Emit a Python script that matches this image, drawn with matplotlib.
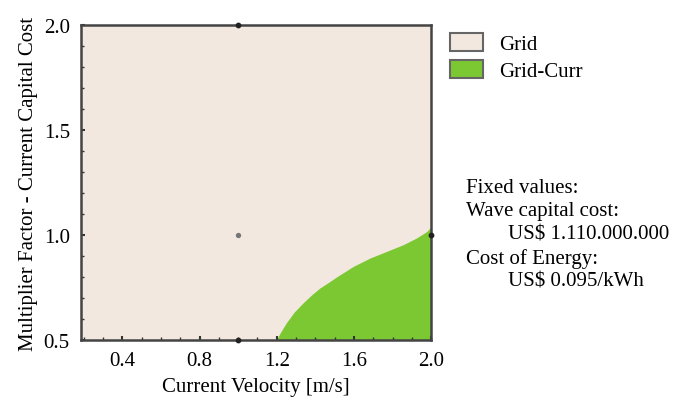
import matplotlib.pyplot as plt
from matplotlib.patches import Patch
from matplotlib.ticker import MultipleLocator

plt.rcParams['font.family'] = ['Liberation Serif', 'DejaVu Serif']

# region labels and colours
regions = ['Grid', 'Grid-Curr']
region_colors = ['#F2E8DF', '#7CC832']

# boundary of the Grid-Curr region (velocity, multiplier)
bound_x = [1.198, 1.22, 1.25, 1.29, 1.337, 1.38, 1.423, 1.47, 1.51, 1.596,
           1.683, 1.77, 1.856, 1.925, 1.978, 2.0]
bound_y = [0.50, 0.537, 0.582, 0.632, 0.677, 0.714, 0.747, 0.775, 0.80, 0.85,
           0.89, 0.922, 0.954, 0.986, 1.017, 1.04]

# grid points shown as dots
dot_x = [1.0, 1.0, 2.0]
dot_y = [2.0, 0.5, 1.0]
mid_x = [1.0]
mid_y = [1.0]

xmin, xmax = 0.185, 2.0
ymin, ymax = 0.5, 2.0

fixed_text = ("Fixed values:\nWave capital cost:\n        US$ 1.110.000.000\n"
              "Cost of Energy:\n        US$ 0.095/kWh")

fig = plt.figure(figsize=(6.8, 4.02), dpi=100)
ax = fig.add_axes([0.119, 0.152, 0.515, 0.783])

ax.set_facecolor(region_colors[0])
ax.fill_between(bound_x, ymin, bound_y, color=region_colors[1], linewidth=0)

ax.scatter(dot_x, dot_y, s=10, color='#222222', zorder=5, clip_on=False)
ax.scatter(mid_x, mid_y, s=8, color='#777777', zorder=5)

ax.set_xlim(xmin, xmax)
ax.set_ylim(ymin, ymax)
ax.xaxis.set_major_locator(MultipleLocator(0.4))
ax.xaxis.set_minor_locator(MultipleLocator(0.1))
ax.yaxis.set_major_locator(MultipleLocator(0.5))
ax.yaxis.set_minor_locator(MultipleLocator(0.1))
ax.set_xticks([0.4, 0.8, 1.2, 1.6, 2.0])
ax.set_xticklabels(['0.4', '0.8', '1.2', '1.6', '2.0'])
ax.tick_params(which='both', direction='in', colors='#333333', labelcolor='black',
               labelsize=15)
ax.tick_params(which='major', length=3, width=1.5)
ax.tick_params(which='minor', length=2, width=1)
ax.tick_params(axis='x', which='major', pad=8)
ax.tick_params(axis='y', which='major', pad=8)

for s in ax.spines.values():
    s.set_color('#444444')
    s.set_linewidth(1.8)

ax.set_xlabel('Current Velocity [m/s]', fontsize=15, labelpad=5)
ax.set_ylabel('Multiplier Factor - Current Capital Cost', fontsize=15, labelpad=4)

handles = [Patch(facecolor=c, edgecolor='#666666', linewidth=1.5) for c in region_colors]
fig.legend(handles, regions, loc='upper left', bbox_to_anchor=(0.655, 0.925),
           frameon=False, fontsize=15, handlelength=1.6, handleheight=0.9,
           handletextpad=0.8, labelspacing=0.3, borderaxespad=0, borderpad=0.2)

fig.text(0.685, 0.555, fixed_text, fontsize=15, va='top', ha='left', linespacing=1.3)

fig.savefig('out.png', dpi=100)
